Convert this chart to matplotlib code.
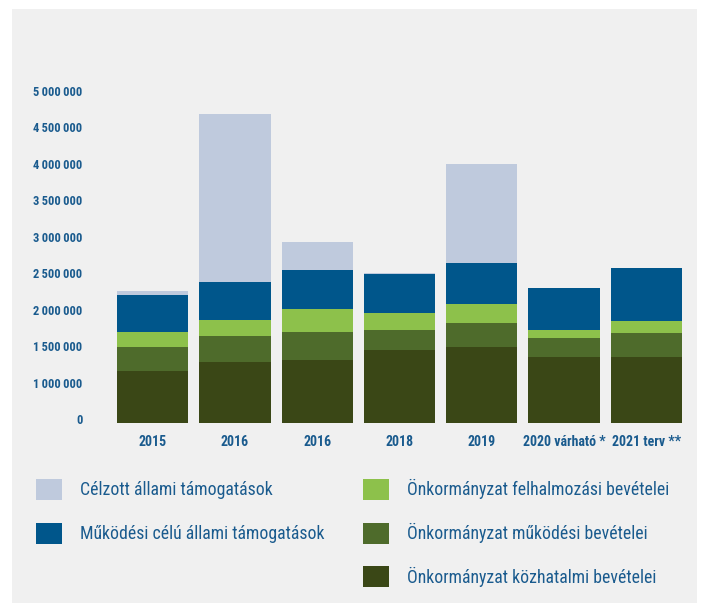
import matplotlib
matplotlib.use("Agg")
import matplotlib.pyplot as plt
from matplotlib import font_manager
from matplotlib.patches import Rectangle, Patch

# years on the x axis
years = ["2015", "2016", "2016", "2018", "2019", "2020 várható *", "2021 terv **"]

# stacked segments, bottom to top
kozhatalmi = [1160000, 1285000, 1312000, 1449000, 1490000, 1353000, 1353000]
mukodesi_bev = [330000, 356000, 383000, 274000, 329000, 260000, 329000]
felhalmozasi = [205000, 219000, 315000, 232000, 260000, 110000, 164000]
mukodesi_allami = [505000, 520000, 534000, 534000, 561000, 574000, 725000]
celzott = [56000, 2298000, 383000, 14000, 1354000, 0, 0]

yticks = [500000, 1000000, 1500000, 2000000, 2500000, 3000000, 3500000, 4000000, 4500000, 5000000]
ytick_labels = ["0", "1\u2009000\u2009000", "1\u2009500\u2009000", "2\u2009000\u2009000", "2\u2009500\u2009000",
                "3\u2009000\u2009000", "3\u2009500\u2009000", "4\u2009000\u2009000", "4\u2009500\u2009000",
                "5\u2009000\u2009000"]

series = [
    ("Önkormányzat közhatalmi bevételei", kozhatalmi, "#3a4716"),
    ("Önkormányzat működési bevételei", mukodesi_bev, "#4e6b2b"),
    ("Önkormányzat felhalmozási bevételei", felhalmozasi, "#8dc14b"),
    ("Működési célú állami támogatások", mukodesi_allami, "#00568b"),
    ("Célzott állami támogatások", celzott, "#bfcadd"),
]

names = set(font_manager.get_font_names())
fam = "Roboto"
for f in ["Roboto Condensed", "Liberation Sans Narrow", "Open Sans Condensed"]:
    if f in names:
        fam = f
        break
plt.rcParams["font.family"] = [fam, "DejaVu Sans"]

txt = "#1a5b8e"
bg = "#f0f0f0"

fig = plt.figure(figsize=(7.01, 6.05), dpi=100, facecolor="white")
fig.patches.append(Rectangle((12 / 701, 2 / 605), 685 / 701, 594 / 605,
                             transform=fig.transFigure, facecolor=bg, edgecolor="none", zorder=-10))

ax = fig.add_axes((111.5 / 701, 182.3 / 605, 576 / 701, 332.2 / 605))
ax.set_facecolor("none")

x = range(len(years))
bottom = [0] * len(years)
for label, vals, col in series:
    ax.bar(x, vals, width=0.866, bottom=bottom, color=col, label=label, linewidth=0)
    bottom = [b + v for b, v in zip(bottom, vals)]

ax.set_xlim(-0.5, len(years) - 0.5)
ax.set_ylim(455000, 5000000)
ax.set_yticks(yticks)
ax.set_yticklabels(ytick_labels)
ax.set_xticks(list(x))
ax.set_xticklabels(years)
for s in ax.spines.values():
    s.set_visible(False)
ax.tick_params(axis="y", length=0, pad=21, labelsize=9, labelcolor=txt)
ax.tick_params(axis="x", length=0, pad=9, labelsize=10, labelcolor=txt)
for t in ax.get_yticklabels() + ax.get_xticklabels():
    t.set_fontweight("bold")

handles = {lab: Patch(facecolor=col, edgecolor="none", label=lab) for lab, _, col in series}
left_keys = ["Célzott állami támogatások", "Működési célú állami támogatások"]
right_keys = ["Önkormányzat felhalmozási bevételei", "Önkormányzat működési bevételei",
              "Önkormányzat közhatalmi bevételei"]

for keys, x0 in [(left_keys, 36), (right_keys, 363)]:
    leg = fig.legend(handles=[handles[k] for k in keys], loc="upper left",
                     bbox_to_anchor=(x0 / 701, 1 - 479 / 605), frameon=False,
                     borderpad=0, borderaxespad=0, fontsize=12.8,
                     handlelength=1.45, handleheight=1.45, handletextpad=1.0,
                     labelspacing=1.27, labelcolor=txt)

fig.savefig("out.png", dpi=100, facecolor="white")
